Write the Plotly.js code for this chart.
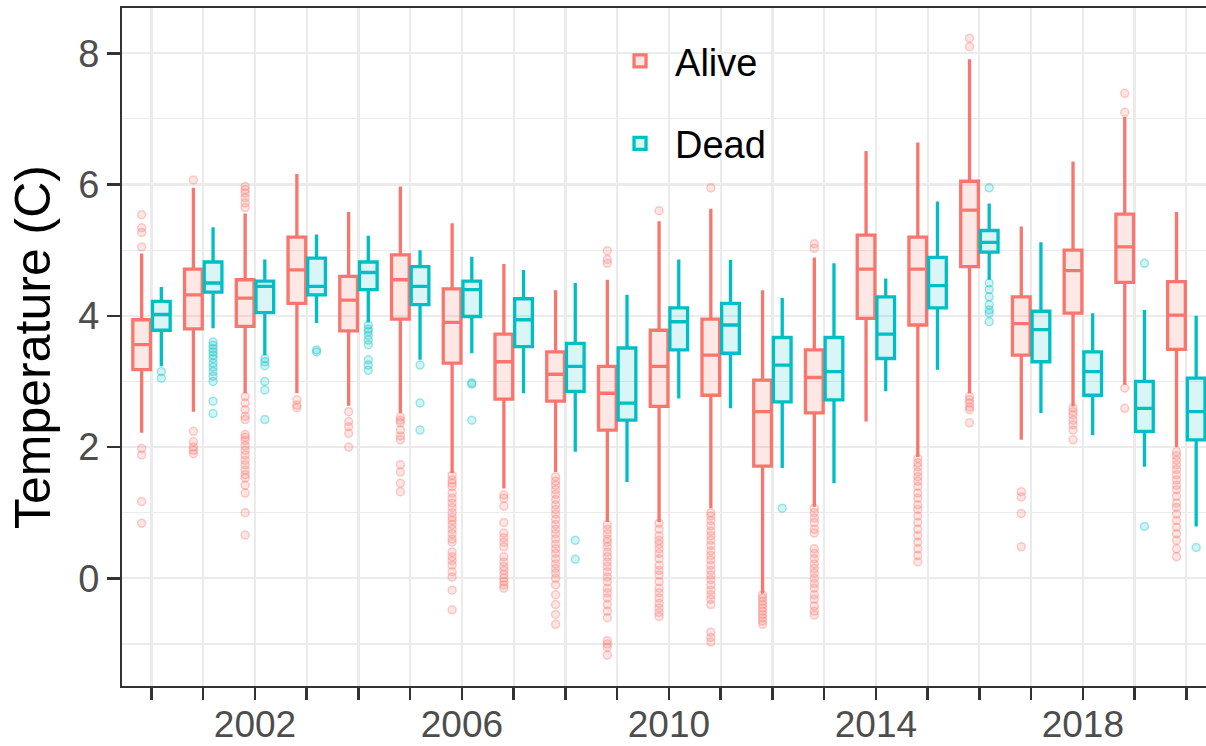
<!DOCTYPE html>
<html>
<head>
<meta charset="utf-8">
<script src="https://cdn.plot.ly/plotly-3.0.1.min.js"></script>
<style>html,body{margin:0;padding:0;background:#fff;}#chart{width:1206px;height:746px;}</style>
</head>
<body>
<div id="chart"></div>
<script>
// ---- data ----
const years = [2000,2001,2002,2003,2004,2005,2006,2007,2008,2009,2010,2011,2012,2013,2014,2015,2016,2017,2018,2019,2020];
const tickLabels = ["","","2002","","","","2006","","","","2010","","","","2014","","","","2018","",""];

const aliveQ1     = [3.18,3.80,3.84,4.19,3.77,3.95,3.28,2.73,2.70,2.26,2.62,2.79,1.71,2.52,3.96,3.86,4.75,3.40,4.04,4.51,3.49];
const aliveMedian = [3.56,4.32,4.27,4.70,4.24,4.55,3.90,3.30,3.11,2.82,3.23,3.40,2.54,3.06,4.71,4.71,5.61,3.88,4.69,5.05,4.01];
const aliveQ3     = [3.94,4.71,4.55,5.20,4.60,4.93,4.41,3.72,3.45,3.23,3.78,3.95,3.02,3.48,5.23,5.20,6.05,4.29,5.00,5.55,4.52];
const aliveLow    = [2.22,2.54,2.82,2.82,2.63,2.52,1.60,1.37,1.62,0.86,0.86,1.07,-0.23,1.09,2.39,1.85,2.82,2.11,2.62,2.95,2.00];
const aliveHigh   = [4.95,5.95,5.56,6.16,5.58,5.97,5.41,4.79,4.39,4.55,5.44,5.63,4.39,4.89,6.51,6.64,7.91,5.36,6.35,7.03,5.58];

const deadQ1      = [3.78,4.36,4.05,4.32,4.40,4.17,3.99,3.53,2.85,2.41,3.48,3.43,2.69,2.72,3.35,4.12,4.97,3.30,2.79,2.24,2.11];
const deadMedian  = [4.02,4.50,4.45,4.45,4.66,4.45,4.40,3.94,3.23,2.67,3.91,3.86,3.25,3.15,3.72,4.46,5.12,3.79,3.15,2.59,2.54];
const deadQ3      = [4.22,4.82,4.53,4.88,4.82,4.75,4.53,4.26,3.58,3.51,4.12,4.19,3.67,3.67,4.29,4.89,5.30,4.07,3.45,3.00,3.05];
const deadLow     = [3.23,3.81,3.40,3.89,3.90,3.33,3.43,2.82,1.93,1.47,2.74,2.59,1.68,1.45,2.85,3.18,4.55,2.52,2.18,1.70,0.79];
const deadHigh    = [4.44,5.35,4.86,5.24,5.22,5.00,4.90,4.70,4.50,4.32,4.86,4.85,4.27,4.80,4.57,5.74,5.71,5.12,4.04,4.09,4.00];

// outliers, one list per year
const aliveOutliers = [
  [5.54,5.34,5.27,5.05,1.98,1.88,1.17,0.84],
  [6.07,2.24,2.08,2.0,1.95,1.9],
  [5.97,5.92,5.87,5.8,5.72,5.65,2.77,2.67,2.57,2.47,2.42,2.19,2.15,2.1,2.02,1.95,1.88,1.8,1.73,1.65,1.58,1.53,1.42,1.3,1.0,0.66],
  [2.72,2.64,2.6],
  [2.54,2.39,2.31,2.21,2.0],
  [2.46,2.41,2.37,2.26,2.17,2.11,1.73,1.62,1.45,1.32],
  [1.57,1.5,1.45,1.4,1.3,1.22,1.15,1.08,1.0,0.93,0.88,0.82,0.75,0.68,0.6,0.55,0.4,0.33,0.27,0.2,0.1,0.02,-0.18,-0.48],
  [1.27,1.22,1.1,0.85,0.69,0.62,0.55,0.48,0.33,0.25,0.18,0.12,0.06,0.0,-0.05,-0.1,-0.15],
  [1.55,1.48,1.42,1.35,1.28,1.2,1.12,1.05,0.98,0.9,0.82,0.75,0.68,0.6,0.52,0.45,0.38,0.3,0.22,0.15,0.08,0.0,-0.1,-0.25,-0.4,-0.55,-0.7],
  [4.99,4.86,4.8,0.82,0.75,0.68,0.6,0.55,0.48,0.4,0.33,0.25,0.18,0.1,0.02,-0.05,-0.15,-0.22,-0.3,-0.4,-0.5,-0.6,-0.95,-1.0,-1.05,-1.17],
  [5.6,0.84,0.75,0.65,0.58,0.52,0.45,0.38,0.3,0.2,0.12,0.05,-0.05,-0.15,-0.22,-0.3,-0.38,-0.45,-0.52,-0.58],
  [5.95,1.0,0.95,0.88,0.8,0.72,0.65,0.58,0.5,0.42,0.35,0.28,0.2,0.12,0.05,-0.02,-0.1,-0.18,-0.25,-0.32,-0.4,-0.82,-0.9,-0.97],
  [-0.25,-0.3,-0.35,-0.4,-0.45,-0.5,-0.55,-0.6,-0.65,-0.7],
  [5.1,5.03,1.07,1.0,0.92,0.85,0.75,0.69,0.45,0.38,0.3,0.22,0.15,0.08,0.0,-0.08,-0.15,-0.25,-0.32,-0.42,-0.5,-0.56],
  [],
  [1.83,1.76,1.7,1.62,1.55,1.48,1.4,1.3,1.22,1.12,1.05,0.95,0.85,0.75,0.65,0.55,0.45,0.35,0.25],
  [8.23,8.1,2.77,2.72,2.67,2.61,2.57,2.37],
  [1.32,1.24,0.99,0.48],
  [2.6,2.54,2.49,2.41,2.34,2.26,2.11],
  [7.39,7.10,2.9,2.59],
  [1.93,1.87,1.8,1.73,1.66,1.58,1.5,1.42,1.35,1.25,1.15,1.08,0.98,0.88,0.78,0.68,0.58,0.45,0.33]
];
const deadOutliers = [
  [3.15,3.05],
  [3.6,3.55,3.5,3.45,3.4,3.35,3.28,3.22,3.15,3.08,3.0,2.7,2.51],
  [3.35,3.3,3.24,3.0,2.87,2.42],
  [3.48,3.45],
  [3.86,3.8,3.76,3.7,3.63,3.56,3.33,3.25,3.17],
  [3.25,2.67,2.26],
  [2.98,2.96,2.41],
  [],
  [0.58,0.29],
  [],[],[],
  [1.07],
  [],[],[],
  [5.95,4.5,4.4,4.29,4.17,4.09,4.04,3.91],
  [],[],
  [4.8,0.79],
  [0.47]
];

// ---- styling ----
const ALIVE = '#F8766D', DEAD = '#00BFC4';
const FONT = 'Liberation Sans, Arial, sans-serif';
const BOXGAP = 0.24, GROUPGAP = 0.1;
const dodge = (1 - BOXGAP) * 0.25; // centre offset of each box in a group

function flatten(outl, sign) {
  const xs = [], ys = [];
  outl.forEach((arr, i) => arr.forEach(v => { xs.push(years[i] + sign * dodge); ys.push(v); }));
  return {xs, ys};
}
const ao = flatten(aliveOutliers, -1);
const dout = flatten(deadOutliers, +1);

const traces = [
  {type:'box', name:'Alive', legendgroup:'a', x:years, q1:aliveQ1, median:aliveMedian, q3:aliveQ3,
   lowerfence:aliveLow, upperfence:aliveHigh, boxpoints:false, whiskerwidth:0,
   line:{color:ALIVE, width:3.3}, fillcolor:'rgba(248,118,109,0.17)', hoverinfo:'skip'},
  {type:'box', name:'Dead', legendgroup:'d', x:years, q1:deadQ1, median:deadMedian, q3:deadQ3,
   lowerfence:deadLow, upperfence:deadHigh, boxpoints:false, whiskerwidth:0,
   line:{color:DEAD, width:3.3}, fillcolor:'rgba(0,191,196,0.15)', hoverinfo:'skip'},
  {type:'scatter', mode:'markers', x:ao.xs, y:ao.ys, showlegend:false, legendgroup:'a', hoverinfo:'skip',
   marker:{size:8, color:'rgba(248,118,109,0.18)', line:{color:'rgba(248,118,109,0.35)', width:1.5}}},
  {type:'scatter', mode:'markers', x:dout.xs, y:dout.ys, showlegend:false, legendgroup:'d', hoverinfo:'skip',
   marker:{size:8, color:'rgba(0,191,196,0.18)', line:{color:'rgba(0,191,196,0.35)', width:1.5}}}
];

const layout = {
  width:1206, height:746,
  margin:{l:122, r:0, t:8, b:60},
  paper_bgcolor:'#ffffff', plot_bgcolor:'#ffffff',
  font:{family:FONT, color:'#4d4d4d'},
  boxmode:'group', boxgap:BOXGAP, boxgroupgap:GROUPGAP,
  showlegend:true,
  legend:{x:0.4456, y:0.968, xanchor:'left', yanchor:'top', bgcolor:'rgba(0,0,0,0)',
          font:{family:FONT, size:38, color:'#000'}, itemwidth:60, tracegroupgap:30, traceorder:'grouped'},
  xaxis:{range:[1999.43, 2020.38], tickmode:'array', tickvals:years, ticktext:tickLabels,
         showgrid:true, gridcolor:'#ebebeb', gridwidth:2.2, zeroline:false,
         ticks:'outside', ticklen:12, tickwidth:2.5, tickcolor:'#333333', ticklabelstandoff:-7,
         showline:true, linecolor:'#333333', linewidth:2, mirror:true,
         tickfont:{family:FONT, size:37, color:'#4d4d4d'}},
  yaxis:{range:[-1.64, 8.69], tickmode:'linear', tick0:0, dtick:2,
         showgrid:true, gridcolor:'#ebebeb', gridwidth:2.2, zeroline:false,
         minor:{dtick:1, tick0:0, showgrid:true, gridcolor:'#ebebeb', gridwidth:1.1, ticks:''},
         ticks:'outside', ticklen:13, tickwidth:2.5, tickcolor:'#333333',
         showline:true, linecolor:'#333333', linewidth:2, mirror:true,
         tickfont:{family:FONT, size:38, color:'#4d4d4d'},
         title:{text:'Temperature (C)', font:{family:FONT, size:50, color:'#000'}, standoff:12}}
};

Plotly.newPlot('chart', traces, layout, {displayModeBar:false, staticPlot:true});
</script>
</body>
</html>
